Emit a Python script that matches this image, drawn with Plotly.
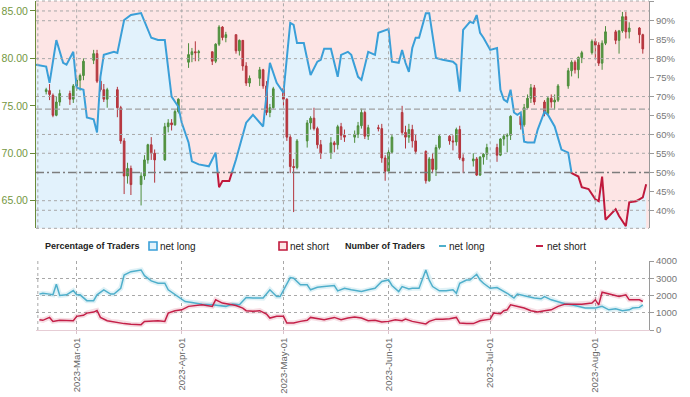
import pandas as pd
import plotly.graph_objects as go

# ---------------- data ----------------
candle_dates = ["2023-02-20","2023-02-21","2023-02-22","2023-02-23","2023-02-24","2023-02-27","2023-02-28",
"2023-03-01","2023-03-02","2023-03-03","2023-03-06","2023-03-07","2023-03-08","2023-03-09","2023-03-10",
"2023-03-13","2023-03-14","2023-03-15","2023-03-16","2023-03-17","2023-03-20","2023-03-21","2023-03-22",
"2023-03-23","2023-03-24","2023-03-27","2023-03-28","2023-03-29","2023-03-30","2023-03-31",
"2023-04-03","2023-04-04","2023-04-05","2023-04-06","2023-04-10","2023-04-11","2023-04-12","2023-04-13",
"2023-04-14","2023-04-17","2023-04-18","2023-04-19","2023-04-20","2023-04-21","2023-04-24","2023-04-25",
"2023-04-26","2023-04-27","2023-04-28",
"2023-05-01","2023-05-02","2023-05-03","2023-05-04","2023-05-05","2023-05-08","2023-05-09","2023-05-10",
"2023-05-11","2023-05-12","2023-05-15","2023-05-16","2023-05-17","2023-05-18","2023-05-19","2023-05-22",
"2023-05-23","2023-05-24","2023-05-25","2023-05-26","2023-05-29","2023-05-30","2023-05-31",
"2023-06-01","2023-06-02","2023-06-05","2023-06-06","2023-06-07","2023-06-08","2023-06-09","2023-06-12",
"2023-06-13","2023-06-14","2023-06-15","2023-06-16","2023-06-19","2023-06-20","2023-06-21","2023-06-22",
"2023-06-23","2023-06-26","2023-06-27","2023-06-28","2023-06-29","2023-06-30",
"2023-07-03","2023-07-04","2023-07-05","2023-07-06","2023-07-07","2023-07-10","2023-07-11","2023-07-12",
"2023-07-13","2023-07-14","2023-07-17","2023-07-18","2023-07-19","2023-07-20","2023-07-21","2023-07-24",
"2023-07-25","2023-07-26","2023-07-27","2023-07-28","2023-07-31",
"2023-08-01","2023-08-02","2023-08-03","2023-08-04","2023-08-07","2023-08-08","2023-08-09","2023-08-10",
"2023-08-11","2023-08-14","2023-08-15"]
price_open = [76.5,76.6,76.1,74.0,75.4,76.3,75.7,
77.1,77.7,78.2,79.8,80.5,77.6,76.7,75.7,
76.7,74.8,71.3,67.6,68.4,66.7,67.6,69.3,
70.9,70.0,69.3,72.8,73.2,73.0,74.4,
79.6,80.4,80.7,80.6,80.7,79.7,81.5,83.3,
82.2,82.5,80.8,81.9,79.2,77.4,77.9,78.8,
77.1,74.3,74.8,
76.8,75.7,71.7,68.6,68.5,71.3,73.2,73.7,
72.6,70.9,70.0,71.1,70.9,72.8,71.9,71.7,
72.0,72.9,74.3,71.8,72.7,72.6,69.5,
68.1,70.1,74.3,72.2,71.7,72.5,71.3,70.2,
67.1,69.4,68.3,70.6,71.8,71.3,71.2,72.5,
69.5,69.2,69.4,67.7,69.6,69.9,
70.6,69.8,71.5,71.8,71.9,73.9,73.0,74.8,
75.8,76.9,75.4,74.2,75.8,75.4,75.6,77.1,
78.7,79.6,78.8,80.1,80.6,
81.8,81.4,79.5,81.6,82.8,81.9,82.9,84.4,
82.8,83.2,82.5]
price_high = [76.9,77.3,76.3,76.0,76.7,76.6,77.3,
78.0,78.4,80.0,80.9,80.9,78.0,77.3,76.9,
77.0,75.0,71.6,69.0,68.7,68.0,69.8,71.0,
71.7,70.4,73.2,73.6,73.6,74.6,75.8,
81.6,81.1,81.8,80.9,80.7,81.6,83.5,83.4,
82.8,82.5,82.0,81.9,79.6,78.2,79.1,78.9,
77.6,75.2,77.0,
76.9,75.8,71.9,69.4,71.5,73.5,73.9,74.8,
72.8,71.4,71.7,71.3,73.0,73.2,72.5,72.4,
73.3,74.7,74.5,73.0,73.0,73.1,69.8,
70.4,72.0,75.0,72.9,73.1,73.0,72.0,70.3,
69.6,70.0,70.9,72.0,71.9,71.9,72.7,72.9,
69.9,70.0,69.6,69.7,70.0,71.0,
71.0,71.6,72.0,72.1,74.0,74.0,75.2,76.2,
77.3,77.2,75.6,76.0,76.2,76.2,77.3,79.0,
79.8,79.8,80.2,80.8,82.0,
82.1,81.7,81.9,83.4,83.0,83.0,84.9,84.9,
83.8,83.3,82.6]
price_low = [76.2,75.6,73.8,73.9,75.0,75.1,75.3,
76.6,76.6,77.7,79.4,77.4,76.5,75.4,74.8,
73.8,71.0,65.7,66.8,65.6,64.5,67.2,68.9,
69.3,66.9,69.2,72.2,72.4,72.9,74.2,
79.0,79.6,79.7,79.7,79.3,79.5,81.3,81.9,
81.7,80.5,80.3,78.7,77.1,77.0,77.1,76.8,
74.0,73.8,74.7,
75.0,71.3,67.9,63.8,68.3,70.6,72.5,72.4,
70.5,69.4,69.4,70.1,70.4,71.4,71.2,71.1,
71.6,72.6,71.5,71.4,72.3,69.0,67.1,
67.9,70.0,71.9,70.5,71.1,70.6,69.9,66.8,
67.0,67.9,67.6,70.4,70.9,70.3,70.8,69.3,
67.9,68.6,67.6,67.6,68.8,69.3,
69.1,69.7,70.8,70.1,71.4,72.5,72.8,74.7,
75.3,75.1,73.9,74.0,74.8,74.6,75.4,76.8,
78.1,78.4,77.9,79.5,80.4,
80.0,79.2,78.8,81.4,81.5,80.5,82.7,82.1,
82.1,81.6,80.5]
price_close = [76.7,76.2,74.0,75.4,76.3,75.7,77.1,
77.7,78.2,79.7,80.5,77.6,76.7,75.7,76.7,
74.8,71.3,67.6,68.4,66.7,67.6,69.3,70.9,
70.0,69.3,72.8,73.2,73.0,74.4,75.7,
80.4,80.7,80.6,80.7,79.7,81.5,83.3,82.2,
82.5,80.8,81.9,79.2,77.4,77.9,78.8,77.1,
74.3,74.8,76.8,
75.7,71.7,68.6,68.5,71.3,73.2,73.7,72.6,
70.9,70.0,71.1,70.9,72.8,71.9,71.7,72.0,
72.9,74.3,71.8,72.7,72.6,69.5,68.1,
70.1,71.7,72.2,71.7,72.5,71.3,70.2,67.1,
69.4,68.3,70.6,71.8,71.3,71.2,72.5,69.5,
69.2,69.4,67.7,69.6,69.9,70.6,
69.8,71.5,71.8,71.9,73.9,73.0,74.8,75.8,
76.9,75.4,74.2,75.8,75.4,75.6,77.1,78.7,
79.6,78.8,80.1,80.6,81.8,
81.4,79.5,81.6,82.8,81.9,82.9,84.4,82.8,
83.2,82.5,81.0]

pct_dates = ["2023-02-17","2023-02-20","2023-02-21","2023-02-23","2023-02-25","2023-02-26","2023-02-28",
"2023-03-01","2023-03-03","2023-03-04","2023-03-06","2023-03-07","2023-03-08","2023-03-09","2023-03-12",
"2023-03-13","2023-03-15","2023-03-17","2023-03-20","2023-03-23","2023-03-25","2023-03-27","2023-03-29",
"2023-03-31","2023-04-01","2023-04-03","2023-04-04","2023-04-06","2023-04-09","2023-04-11","2023-04-12",
"2023-04-13","2023-04-15","2023-04-17","2023-04-20","2023-04-22","2023-04-25","2023-04-27","2023-04-29",
"2023-05-01","2023-05-03","2023-05-04","2023-05-05","2023-05-07","2023-05-09","2023-05-11","2023-05-12",
"2023-05-13","2023-05-15","2023-05-17","2023-05-18","2023-05-20","2023-05-21","2023-05-23","2023-05-24",
"2023-05-26","2023-05-28","2023-05-29","2023-06-01","2023-06-02","2023-06-04","2023-06-05","2023-06-06",
"2023-06-07","2023-06-08","2023-06-09","2023-06-10","2023-06-12","2023-06-13","2023-06-15","2023-06-17",
"2023-06-20","2023-06-21","2023-06-22","2023-06-23","2023-06-25","2023-06-26","2023-06-27","2023-06-28",
"2023-06-29","2023-07-01","2023-07-03","2023-07-04","2023-07-05","2023-07-06","2023-07-07","2023-07-08",
"2023-07-09","2023-07-10","2023-07-11","2023-07-12","2023-07-14","2023-07-15","2023-07-17","2023-07-18",
"2023-07-20","2023-07-22","2023-07-24","2023-07-25","2023-07-27","2023-07-28","2023-07-30","2023-08-01",
"2023-08-02","2023-08-03","2023-08-04","2023-08-05","2023-08-07","2023-08-08","2023-08-10","2023-08-11",
"2023-08-13","2023-08-14","2023-08-15","2023-08-16"]
pct_net_long = [78.4,77.9,73.6,84.9,78.9,78.4,81.8,
72.3,71.8,64.5,64.0,60.5,75.2,81.0,81.8,
81.5,90.2,91.5,92.0,85.5,84.9,84.9,70.0,
67.3,63.1,57.9,52.9,52.1,51.6,55.2,46.1,
47.7,47.7,53.4,63.1,65.2,62.1,78.9,73.6,
71.0,89.4,88.9,84.1,84.1,75.7,79.2,79.7,
82.6,82.6,75.2,81.0,81.8,81.0,75.2,74.4,
81.8,81.0,86.8,87.8,79.2,78.9,82.3,78.9,
76.5,82.8,85.5,85.5,92.0,92.0,80.2,79.7,
79.2,78.4,71.3,87.6,89.7,89.4,91.5,86.8,
85.5,82.3,82.8,71.8,69.2,68.6,71.8,65.8,
65.2,65.8,58.1,57.9,57.9,61.3,66.0,65.2,
62.1,56.0,55.2,49.8,48.9,46.1,45.6,42.9,
42.4,48.9,37.5,38.5,40.3,38.5,35.8,42.1,
42.4,42.9,43.4,46.9]

long_dates = ["2023-02-18","2023-02-19","2023-02-21","2023-02-22","2023-02-23","2023-02-24","2023-02-26",
"2023-02-28","2023-03-01","2023-03-02","2023-03-04","2023-03-06","2023-03-07","2023-03-09","2023-03-11",
"2023-03-12","2023-03-14","2023-03-15","2023-03-17","2023-03-20","2023-03-21","2023-03-23","2023-03-25",
"2023-03-27","2023-03-28","2023-03-30","2023-04-02","2023-04-04","2023-04-07","2023-04-10","2023-04-12",
"2023-04-14","2023-04-16","2023-04-18","2023-04-20","2023-04-22","2023-04-25","2023-04-27","2023-04-29",
"2023-04-30","2023-05-03","2023-05-04","2023-05-06","2023-05-08","2023-05-09","2023-05-11","2023-05-13",
"2023-05-16","2023-05-17","2023-05-19","2023-05-21","2023-05-23","2023-05-24","2023-05-26","2023-05-28",
"2023-05-30","2023-06-01","2023-06-02","2023-06-04","2023-06-05","2023-06-07","2023-06-08","2023-06-10",
"2023-06-12","2023-06-13","2023-06-14","2023-06-16","2023-06-18","2023-06-20","2023-06-21","2023-06-22",
"2023-06-24","2023-06-25","2023-06-27","2023-06-28","2023-06-29","2023-07-01","2023-07-03","2023-07-05",
"2023-07-06","2023-07-08","2023-07-09","2023-07-12","2023-07-14","2023-07-16","2023-07-17","2023-07-19",
"2023-07-21","2023-07-23","2023-07-25","2023-07-27","2023-07-29","2023-07-31","2023-08-01","2023-08-03",
"2023-08-05","2023-08-07","2023-08-09","2023-08-11","2023-08-12","2023-08-14","2023-08-15"]
traders_net_long = [2080,2130,2080,2040,2650,2000,2040,
2290,2040,2040,1700,1700,2040,2330,2080,
2080,2420,3190,3380,3480,3150,2850,2710,
2710,2330,2040,1650,1600,1500,1460,1420,
1370,1500,1460,1880,1850,1850,2330,1940,
1940,3040,3000,2620,2620,2330,2480,2520,
2580,2270,2420,2330,2270,2230,2330,2420,
2810,2900,2580,2230,2520,2380,2420,2420,
3480,2900,2520,2270,2270,2330,2130,2710,
2900,2900,3230,2900,2710,2420,2460,2230,
2130,1850,2080,1940,1850,1810,1940,1750,
1620,1520,1460,1370,1270,1270,1270,1370,
1170,1230,1120,1170,1270,1310,1460]

short_dates = ["2023-02-18","2023-02-19","2023-02-21","2023-02-22","2023-02-24","2023-02-26","2023-02-28",
"2023-03-01","2023-03-03","2023-03-04","2023-03-06","2023-03-07","2023-03-08","2023-03-10","2023-03-11",
"2023-03-13","2023-03-15","2023-03-17","2023-03-20","2023-03-21","2023-03-23","2023-03-25","2023-03-27",
"2023-03-28","2023-03-30","2023-04-01","2023-04-03","2023-04-05","2023-04-07","2023-04-10","2023-04-11",
"2023-04-13","2023-04-15","2023-04-17","2023-04-19","2023-04-20","2023-04-22","2023-04-24","2023-04-26",
"2023-04-27","2023-04-29","2023-05-01","2023-05-02","2023-05-04","2023-05-06","2023-05-08","2023-05-09",
"2023-05-11","2023-05-13","2023-05-16","2023-05-18","2023-05-20","2023-05-22","2023-05-24","2023-05-26",
"2023-05-28","2023-05-30","2023-06-01","2023-06-03","2023-06-05","2023-06-06","2023-06-08","2023-06-10",
"2023-06-12","2023-06-13","2023-06-15","2023-06-17","2023-06-19","2023-06-21","2023-06-22","2023-06-24",
"2023-06-26","2023-06-28","2023-06-30","2023-07-01","2023-07-02","2023-07-04","2023-07-05","2023-07-06",
"2023-07-07","2023-07-09","2023-07-11","2023-07-13","2023-07-15","2023-07-17","2023-07-19","2023-07-21",
"2023-07-23","2023-07-25","2023-07-28","2023-07-31","2023-08-01","2023-08-02","2023-08-03","2023-08-06",
"2023-08-08","2023-08-10","2023-08-11","2023-08-14","2023-08-15"]
traders_net_short = [600,560,730,500,560,560,540,
790,850,980,1040,1130,730,540,500,
460,370,330,310,500,540,540,500,
980,1120,1170,1370,1420,1460,1370,1750,
1560,1500,1420,1270,1120,1080,1120,920,
690,790,790,400,400,500,560,730,
650,600,730,600,690,750,690,540,
560,460,500,600,540,630,500,440,
350,500,630,630,650,730,400,370,
370,540,600,630,980,940,1120,1170,
1460,1370,1270,1120,1040,1120,1170,1370,
1500,1500,1500,1560,1750,1460,2190,2040,
1940,2040,1750,1750,1650]

month_ticks = ["2023-03-01","2023-04-01","2023-05-01","2023-06-01","2023-07-01","2023-08-01"]
price_levels = [85, 80, 75, 70, 65]
pct_grid = [90, 80, 70, 60, 40]
price_grid = [85, 70, 65]

# ---------------- styling ----------------
W, H = 690, 397
ML, MR, MT, MB = 36, 41, 1, 67
PH = H - MT - MB
top_bottom_frac = (330 - 228.3) / PH
bot_top_frac = (330 - 261) / PH
SANS = "Liberation Sans, Arial, sans-serif"
BLUE = "#3a9fd8"
RED = "#c0193c"
PINK_BG = "#fde5e5"
BLUE_FILL = "#e2f2fc"
GRID = "#a8a8a8"
C_LONG = "#4fafcb"
C_SHORT = "#c42048"

fig = go.Figure()

pdates = pd.to_datetime(pct_dates)

# blue area under net long %
fig.add_trace(go.Scatter(x=pdates, y=pct_net_long, mode="lines", line=dict(width=0),
                         fill="tozeroy", fillcolor=BLUE_FILL, hoverinfo="skip",
                         xaxis="x", yaxis="y", showlegend=False))

# candles
fig.add_trace(go.Candlestick(x=pd.to_datetime(candle_dates), open=price_open, high=price_high,
                             low=price_low, close=price_close, xaxis="x", yaxis="y2",
                             increasing=dict(line=dict(color="#4e8d3c", width=1), fillcolor="#559a42"),
                             decreasing=dict(line=dict(color="#b3343c", width=1), fillcolor="#bb3a43"),
                             whiskerwidth=0, showlegend=False))

# net long % line, coloured by side of 50%
segs = []
cx, cy = [pdates[0]], [pct_net_long[0]]
above = pct_net_long[0] >= 50
for i in range(1, len(pct_net_long)):
    x0, y0 = pdates[i - 1], pct_net_long[i - 1]
    x1, y1 = pdates[i], pct_net_long[i]
    a1 = y1 >= 50
    if a1 != above:
        t = (50 - y0) / (y1 - y0)
        xc = x0 + (x1 - x0) * t
        cx.append(xc); cy.append(50)
        segs.append((above, cx, cy))
        cx, cy = [xc], [50]
        above = a1
    cx.append(x1); cy.append(y1)
segs.append((above, cx, cy))
for ab, xs, ys in segs:
    fig.add_trace(go.Scatter(x=xs, y=ys, mode="lines",
                             line=dict(color=BLUE if ab else RED, width=2),
                             xaxis="x", yaxis="y3", showlegend=False, hoverinfo="skip"))

# number of traders (bottom)
ld = pd.to_datetime(long_dates)
sd = pd.to_datetime(short_dates)
fig.add_trace(go.Scatter(x=ld, y=traders_net_long, mode="lines",
                         line=dict(color="rgba(79,175,203,0.18)", width=5),
                         xaxis="x2", yaxis="y4", showlegend=False, hoverinfo="skip"))
fig.add_trace(go.Scatter(x=sd, y=traders_net_short, mode="lines",
                         line=dict(color="rgba(196,32,72,0.15)", width=5),
                         xaxis="x2", yaxis="y4", showlegend=False, hoverinfo="skip"))
fig.add_trace(go.Scatter(x=ld, y=traders_net_long, mode="lines",
                         line=dict(color=C_LONG, width=1.5),
                         xaxis="x2", yaxis="y4", showlegend=False))
fig.add_trace(go.Scatter(x=sd, y=traders_net_short, mode="lines",
                         line=dict(color=C_SHORT, width=1.5),
                         xaxis="x2", yaxis="y4", showlegend=False))

shapes = []
dot = dict(color=GRID, width=1, dash="dot")
for v in pct_grid:
    shapes.append(dict(type="line", xref="x domain", x0=0, x1=1, yref="y", y0=v, y1=v, line=dot, layer="above"))
for v in price_grid:
    shapes.append(dict(type="line", xref="x domain", x0=0, x1=1, yref="y2", y0=v, y1=v, line=dot, layer="above"))
for v in (0, 1):
    shapes.append(dict(type="line", xref="x domain", x0=0, x1=1, yref="y domain", y0=v, y1=v, line=dot, layer="above"))
shapes.append(dict(type="line", xref="x domain", x0=0.003, x1=0.003, yref="y domain", y0=0, y1=1, line=dot, layer="above"))
shapes.append(dict(type="line", xref="x2 domain", x0=0.003, x1=0.003, yref="y4 domain", y0=0, y1=1, line=dot, layer="above"))
for m in month_ticks:
    shapes.append(dict(type="line", xref="x", x0=m, x1=m, yref="y domain", y0=0, y1=1, line=dot, layer="above"))
# reference levels
shapes.append(dict(type="line", xref="x domain", x0=0, x1=1, yref="y", y0=50, y1=50,
                   line=dict(color="#7d7d7d", width=1.5, dash="8px,3px,2px,3px"), layer="above"))
shapes.append(dict(type="line", xref="x domain", x0=0, x1=1, yref="y", y0=200/3, y1=200/3,
                   line=dict(color="#a0a0a0", width=1.2, dash="6px,3px"), layer="above"))

# legend row
def px_x(p):
    return (p - ML) / (W - ML - MR)

def px_y(p):
    return (330 - p) / PH

ly = 246
shapes.append(dict(type="rect", xref="paper", yref="paper", x0=px_x(149), x1=px_x(157),
                   y0=px_y(250), y1=px_y(242), line=dict(color=BLUE, width=1.6), fillcolor=BLUE_FILL))
shapes.append(dict(type="rect", xref="paper", yref="paper", x0=px_x(279), x1=px_x(287),
                   y0=px_y(250), y1=px_y(242), line=dict(color=RED, width=1.6), fillcolor=PINK_BG))
shapes.append(dict(type="line", xref="paper", yref="paper", x0=px_x(439), x1=px_x(446),
                   y0=px_y(ly), y1=px_y(ly), line=dict(color=C_LONG, width=2)))
shapes.append(dict(type="line", xref="paper", yref="paper", x0=px_x(536), x1=px_x(543),
                   y0=px_y(ly), y1=px_y(ly), line=dict(color=C_SHORT, width=2)))

annotations = []
def lab(x, text, bold=False, size=10):
    annotations.append(dict(xref="paper", yref="paper", x=px_x(x), y=px_y(ly), xanchor="left",
                            yanchor="middle", showarrow=False, xshift=-1,
                            text=("<b>%s</b>" % text) if bold else text,
                            font=dict(family=SANS, size=size, color="#222")))
lab(44, "Percentage of Traders", True, 9)
lab(159, "net long")
lab(289, "net short")
lab(344, "Number of Traders", True, 9)
lab(448, "net long")
lab(546, "net short")

xrange_ = ["2023-02-17 00:00", "2023-08-16 20:00"]

fig.update_layout(
    width=W, height=H, margin=dict(l=ML, r=MR, t=MT, b=MB, autoexpand=False),
    paper_bgcolor="white", plot_bgcolor=PINK_BG,
    shapes=shapes, annotations=annotations, showlegend=False,
    font=dict(family=SANS, size=10, color="#666"),
    xaxis=dict(domain=[0, 1], anchor="y", range=xrange_, type="date", showticklabels=False,
               showgrid=False, zeroline=False, showline=False, rangeslider=dict(visible=False),
               ticks="", automargin=False),
    yaxis=dict(domain=[top_bottom_frac, 1], anchor="x", side="right", range=[35.25, 95.2],
               tick0=35, dtick=5, ticksuffix="%", showgrid=False, zeroline=False,
               showline=True, linecolor="#9a9a9a", linewidth=1, ticks="outside", ticklen=4,
               tickcolor="#9a9a9a", automargin=False,
               tickfont=dict(family=SANS, size=9.5, color="#777")),
    yaxis2=dict(overlaying="y", side="left", anchor="x", range=[62.09, 86.05], tickvals=price_levels,
                tickformat=".2f", showgrid=False, zeroline=False, showline=True, linecolor="#6a8a3a",
                linewidth=1, ticks="outside", ticklen=5, tickcolor="#6a8a3a", automargin=False,
                tickfont=dict(family=SANS, size=10.5, color="#74973f")),
    yaxis3=dict(overlaying="y", range=[35.25, 95.2], visible=False, automargin=False),
    xaxis2=dict(domain=[0, 1], anchor="y4", matches="x", type="date", tickvals=month_ticks,
                tickformat="%Y-%b-%d", tickangle=-90, showgrid=True, gridcolor=GRID, griddash="dot",
                gridwidth=1, zeroline=False, showline=True, linecolor="#e6cdd5", ticks="outside",
                ticklen=3, tickcolor="#d9c3cb", automargin=False, rangeslider=dict(visible=False),
                tickfont=dict(family=SANS, size=9.5, color="#666")),
    yaxis4=dict(domain=[0, bot_top_frac], anchor="x2", side="right", range=[0, 4000], dtick=1000,
                showgrid=True, gridcolor=GRID, griddash="dot", gridwidth=1, zeroline=False,
                showline=True, linecolor="#9a9a9a", ticks="outside", ticklen=4, tickcolor="#9a9a9a",
                automargin=False, tickfont=dict(family=SANS, size=9.5, color="#777")),
)
# bottom panel background white
fig.add_shape(dict(type="rect", xref="x2 domain", yref="y4 domain", x0=0, x1=1, y0=0, y1=1,
                   fillcolor="white", line=dict(width=0), layer="below"))

fig.write_html("out.html", config={"displayModeBar": False},
               post_script="document.body.style.margin='0';document.body.style.overflow='hidden';")
